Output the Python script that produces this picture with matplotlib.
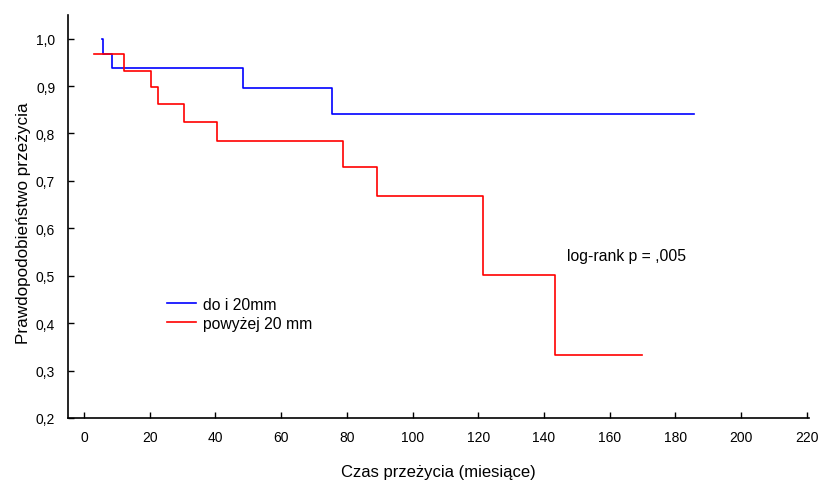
import matplotlib
matplotlib.use("Agg")
import matplotlib.pyplot as plt
from matplotlib.ticker import FuncFormatter

# Kaplan-Meier curves (months, survival probability)
blue_time = [5.5, 5.9, 8.4, 48.4, 75.6, 185.7]
blue_surv = [1.0, 0.968, 0.937, 0.896, 0.840, 0.840]

red_time = [3.05, 12.2, 20.4, 22.6, 30.3, 40.4, 78.9, 89.3, 121.3, 143.2, 169.7]
red_surv = [0.967, 0.932, 0.897, 0.861, 0.825, 0.785, 0.729, 0.668, 0.501, 0.333, 0.333]

labels = ["do i 20mm", "powyżej 20 mm"]
x_ticks = list(range(0, 221, 20))
y_ticks = [0.2, 0.3, 0.4, 0.5, 0.6, 0.7, 0.8, 0.9, 1.0]

plt.rcParams["font.family"] = ["Liberation Sans", "DejaVu Sans"]
plt.rcParams["font.size"] = 10

fig = plt.figure(figsize=(8.2, 4.81), dpi=100)
ax = fig.add_axes([0.0825, 0.129, 0.9035, 0.838])

ax.plot(blue_time, blue_surv, drawstyle="steps-post", color="#0000ff", lw=1.2, label=labels[0])
ax.plot(red_time, red_surv, drawstyle="steps-post", color="#ff0000", lw=1.2, label=labels[1])

ax.set_xlim(-5, 220.5)
ax.set_ylim(0.2, 1.05)
ax.set_xticks(x_ticks)
ax.set_yticks(y_ticks)
ax.yaxis.set_major_formatter(FuncFormatter(lambda v, p: f"{v:.1f}".replace(".", ",")))
ax.tick_params(direction="in", length=4, width=1, colors="black", labelsize=10)
ax.tick_params(axis="x", pad=9)
ax.tick_params(axis="y", pad=9)

for s in ["top", "right"]:
    ax.spines[s].set_visible(False)
for s in ["left", "bottom"]:
    ax.spines[s].set_linewidth(1.2)

ax.set_xlabel("Czas przeżycia (miesiące)", fontsize=12, labelpad=14)
ax.set_ylabel("Prawdopodobieństwo przeżycia", fontsize=12.3)
ax.yaxis.set_label_coords(-0.050, 0.486)

ax.text(147, 0.542, "log-rank p = ,005", va="center", ha="left", fontsize=11.3)

ax.legend(loc="upper left", bbox_to_anchor=(0.115, 0.336), frameon=False, fontsize=11.3,
          handlelength=1.85, handletextpad=0.45, labelspacing=0.25)

fig.savefig("out.png", dpi=100)
